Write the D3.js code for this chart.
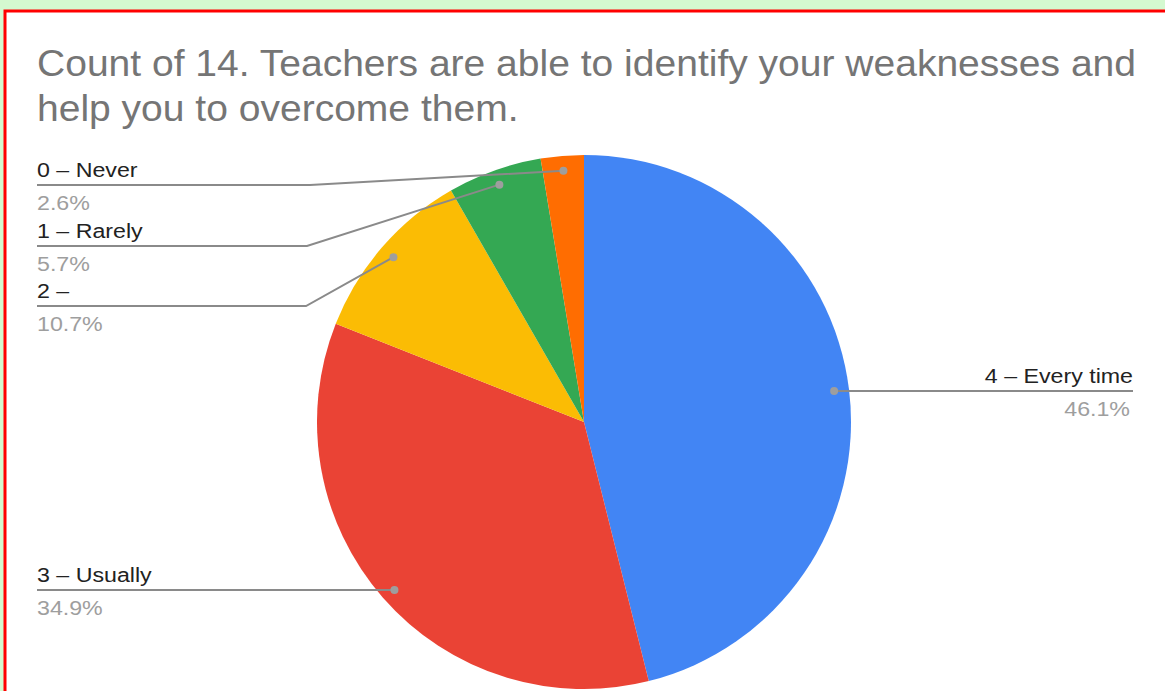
<!DOCTYPE html>
<html>
<head>
<meta charset="utf-8">
<script src="https://cdn.jsdelivr.net/npm/d3@7/dist/d3.min.js"></script>
<style>
  html, body { margin: 0; padding: 0; background: #d4f9d0; overflow: hidden; }
  svg { display: block; }
</style>
</head>
<body>
<svg id="chart" width="1165" height="691"></svg>
<script>
const categories = ["4 – Every time", "3 – Usually", "2 –", "1 – Rarely", "0 – Never"];
const values = [46.1, 34.9, 10.7, 5.7, 2.6];
const percentLabels = ["46.1%", "34.9%", "10.7%", "5.7%", "2.6%"];
const colors = ["#4285f4", "#ea4335", "#fbbc04", "#34a853", "#ff6d01"];
const titleLines = ["Count of 14. Teachers are able to identify your weaknesses and", "help you to overcome them."];

const W = 1165, H = 691;
const FONT = "Liberation Sans, Arial, sans-serif";
const svg = d3.select("#chart");

// background panel with red border
svg.append("rect").attr("x", 0).attr("y", 0).attr("width", W).attr("height", H).attr("fill", "#d4f9d0");
svg.append("rect").attr("x", 5).attr("y", 11).attr("width", W + 10).attr("height", H + 10)
  .attr("fill", "#ffffff").attr("stroke", "#ff0000").attr("stroke-width", 3);

// title (horizontally stretched to match reference rendering)
titleLines.forEach((t, i) => {
  svg.append("text")
    .attr("transform", `translate(37,${76 + i * 45}) scale(1.055,1)`)
    .attr("font-family", FONT).attr("font-size", 37).attr("fill", "#757575")
    .text(t);
});

const cx = 584, cy = 422, R = 267;
const g = svg.append("g").attr("transform", `translate(${cx},${cy})`);

const pie = d3.pie().sort(null).value(d => d.v).startAngle(0).endAngle(2 * Math.PI);
const data = categories.map((c, i) => ({ c, v: values[i], p: percentLabels[i], col: colors[i] }));
const arcs = pie(data);
const arc = d3.arc().innerRadius(0).outerRadius(R);
const dotArc = d3.arc().innerRadius(252).outerRadius(252);

g.selectAll("path.slice").data(arcs).enter().append("path")
  .attr("class", "slice")
  .attr("d", arc)
  .attr("fill", d => d.data.col);

// label layout (line y, side, elbow)
const layout = {
  "4 – Every time": { side: "right", lineY: 391, x2: 1133 },
  "3 – Usually":   { side: "left", lineY: 590, x1: 37 },
  "2 –":           { side: "left", lineY: 306, x1: 37, elbow: 306 },
  "1 – Rarely":    { side: "left", lineY: 246, x1: 37, elbow: 307 },
  "0 – Never":     { side: "left", lineY: 185, x1: 37, elbow: 310 }
};

const SX = 1.16, FS = 20;
const ann = svg.append("g");
arcs.forEach(d => {
  const L = layout[d.data.c];
  const [dx, dy] = dotArc.centroid(d);
  const px = cx + dx, py = cy + dy;
  let pts, dotY;
  if (L.side === "right") {
    pts = [[px, L.lineY], [L.x2, L.lineY]]; dotY = L.lineY;
  } else if (L.elbow) {
    pts = [[L.x1, L.lineY], [L.elbow, L.lineY], [px, py]]; dotY = py;
  } else {
    pts = [[L.x1, L.lineY], [px, L.lineY]]; dotY = L.lineY;
  }
  ann.append("path").attr("d", d3.line()(pts)).attr("fill", "none")
    .attr("stroke", "#8a8a8a").attr("stroke-width", 2);
  ann.append("circle").attr("cx", px).attr("cy", dotY)
    .attr("r", 4).attr("fill", "#9e9e9e");
  const tx = L.side === "right" ? L.x2 : L.x1;
  const anchor = L.side === "right" ? "end" : "start";
  ann.append("text")
    .attr("transform", `translate(${tx},${L.lineY - 8}) scale(${SX},1)`)
    .attr("text-anchor", anchor).attr("font-family", FONT)
    .attr("font-size", FS).attr("fill", "#222222").text(d.data.c);
  ann.append("text")
    .attr("transform", `translate(${L.side === "right" ? tx - 3 : tx},${L.lineY + 25}) scale(${SX},1)`)
    .attr("text-anchor", anchor).attr("font-family", FONT)
    .attr("font-size", FS).attr("fill", "#9e9e9e").text(d.data.p);
});
</script>
</body>
</html>
